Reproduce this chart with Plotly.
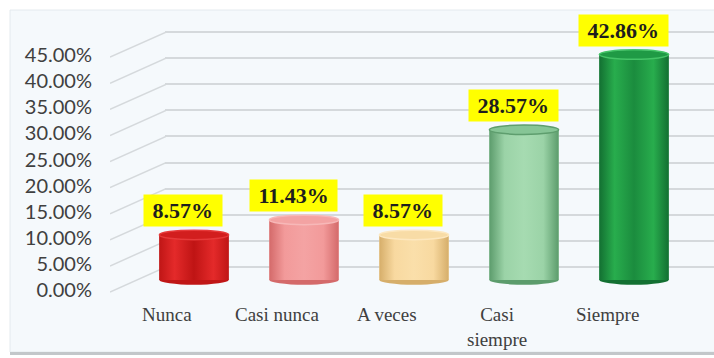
import plotly.graph_objects as go

# ---- data -------------------------------------------------------------
categories = ["Nunca", "Casi nunca", "A veces", "Casi siempre", "Siempre"]
category_text = ["Nunca", "Casi nunca", "A veces", "Casi<br>siempre", "Siempre"]
percentages = [8.57, 11.43, 8.57, 28.57, 42.86]
value_labels = ["8.57%", "11.43%", "8.57%", "28.57%", "42.86%"]
tick_values = [0, 5, 10, 15, 20, 25, 30, 35, 40, 45]
tick_labels = ["0.00%", "5.00%", "10.00%", "15.00%", "20.00%",
               "25.00%", "30.00%", "35.00%", "40.00%", "45.00%"]

# ---- styling ----------------------------------------------------------
W, H = 714, 358
# (edge, side highlight, centre, top face, top rim) per cylinder
palette = [
    ("#c01616", "#e42a2a", "#bf1414", "#d21e1e", "#e63a3a"),
    ("#d46a6a", "#f29a9a", "#f4a3a3", "#f3a3a3", "#f7b8b8"),
    ("#d6ae6a", "#f8d9a0", "#fadfaa", "#f8dca6", "#fde8c0"),
    ("#5c9c6c", "#9bd3a7", "#a6dbb1", "#86c596", "#5e9e6e"),
    ("#137032", "#28ad4d", "#1b8c3e", "#1f9a45", "#45c468"),
]
grid_color = "#d5d9dc"
bar_width = 0.63
ellipse_half = 0.9          # half height of the cylinder caps, in % units


def fx(px):
    return px / W


def fy(px):
    return 1 - px / H


fig = go.Figure()

# back wall: carries the horizontal gridlines of x/y
fig.add_trace(go.Scatter(x=[None], y=[None], xaxis="x", yaxis="y",
                         mode="lines", hoverinfo="skip"))

# side-wall connectors from each tick label to the back-wall gridline
diag_x, diag_y = [], []
for v in tick_values:
    diag_x += [0, 1, None]
    diag_y += [v - 0.4, v + 4.4, None]
fig.add_trace(go.Scatter(
    x=diag_x, y=diag_y, mode="lines", xaxis="x2", yaxis="y2",
    line=dict(color=grid_color, width=1.5), hoverinfo="skip",
))

# cylinders
idx = list(range(len(categories)))
fig.add_trace(go.Bar(
    x=idx, y=percentages, width=bar_width, xaxis="x3", yaxis="y3",
    marker=dict(color=[p[2] for p in palette], line=dict(width=0)),
    hovertext=categories, hoverinfo="text+y",
))
for i, v in enumerate(percentages):
    edge, side, centre, top, rim = palette[i]
    x0, x1 = i - bar_width / 2, i + bar_width / 2
    fig.add_trace(go.Scatter(
        x=[x0, x1, x1, x0, x0], y=[0, 0, v, v, 0],
        mode="lines", fill="toself", xaxis="x3", yaxis="y3",
        line=dict(color="rgba(0,0,0,0)", width=0),
        fillgradient=dict(
            type="horizontal",
            colorscale=[[0, edge], [0.22, side], [0.5, centre],
                        [0.78, side], [1, edge]],
        ),
        hoverinfo="skip",
    ))
    # rounded base
    fig.add_shape(type="circle", xref="x3", yref="y3", layer="below",
                  x0=x0, x1=x1, y0=-ellipse_half, y1=ellipse_half,
                  fillcolor=edge, line=dict(width=0))
    # top cap
    fig.add_shape(type="circle", xref="x3", yref="y3", layer="above",
                  x0=x0, x1=x1, y0=v - ellipse_half, y1=v + ellipse_half,
                  fillcolor=top, line=dict(color=rim, width=1.5))
    # value label
    fig.add_annotation(
        x=i - 0.1, y=v, xref="x3", yref="y3", yshift=24,
        text=f"&nbsp;<b>{value_labels[i]}</b>&nbsp;", showarrow=False,
        font=dict(family="Liberation Serif", size=22, color="#1e1e1e"),
        bgcolor="#ffff00", borderpad=3, yanchor="middle",
    )
    # category label
    fig.add_annotation(
        x=i, y=fy(302), xref="x3", yref="paper", xshift=-27,
        text=category_text[i], showarrow=False, yanchor="top",
        font=dict(family="Liberation Serif", size=19, color="#404040"),
    )

# chart frame with soft bottom shadow
fig.add_shape(type="rect", xref="paper", yref="paper", layer="below",
              x0=fx(10), x1=fx(716), y0=fy(352), y1=fy(10),
              fillcolor="#f5f9fc", line=dict(color="#e4eaee", width=1))
fig.add_shape(type="line", xref="paper", yref="paper", layer="below",
              x0=fx(10), x1=fx(716), y0=fy(353.5), y1=fy(353.5),
              line=dict(color="#c3c7ca", width=3))

fig.update_layout(
    width=W, height=H, margin=dict(l=0, r=0, t=0, b=0),
    paper_bgcolor="white", plot_bgcolor="rgba(0,0,0,0)",
    showlegend=False,
    # back wall gridlines
    xaxis=dict(domain=[fx(165), 1], range=[0, 1], visible=False, anchor="y"),
    yaxis=dict(domain=[fy(269.6), fy(29.4)], range=[-0.5, 45.5], anchor="x",
               tickvals=tick_values, showticklabels=False, showgrid=True,
               gridcolor=grid_color, gridwidth=2, zeroline=False,
               showline=False, ticks=""),
    # tick labels + side wall
    xaxis2=dict(domain=[fx(110), fx(166)], range=[0, 1], visible=False,
                anchor="y2"),
    yaxis2=dict(domain=[fy(316.1), fy(29)], range=[-5, 50], anchor="free",
                position=fx(92), tickvals=tick_values, ticktext=tick_labels,
                showgrid=False, zeroline=False, showline=False, ticks="",
                tickfont=dict(family="Lato", size=20, color="#404040")),
    # cylinders
    xaxis3=dict(domain=[fx(139), fx(689)], range=[-0.5, 4.5], visible=False,
                anchor="y3"),
    yaxis3=dict(domain=[fy(295.8), fy(17)], range=[-3, 50], visible=False,
                anchor="x3"),
)

fig.write_html("out.html")
